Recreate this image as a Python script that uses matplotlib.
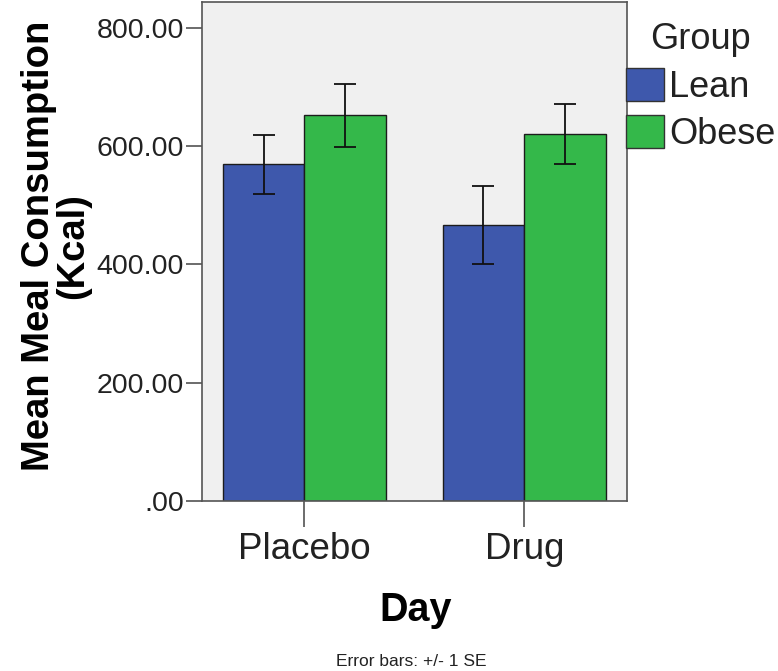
import numpy as np
import matplotlib
matplotlib.use("Agg")
import matplotlib.pyplot as plt
from matplotlib.patches import Patch
from matplotlib.ticker import FuncFormatter

plt.rcParams['font.family'] = ['Liberation Sans', 'DejaVu Sans']

# data
days = ["Placebo", "Drug"]
groups = ["Lean", "Obese"]
lean_mean = [569, 467]
lean_se = [50, 66]
obese_mean = [652, 620]
obese_se = [53, 51]
yticks = [0, 200, 400, 600, 800]

colors = {"Lean": "#3e58ac", "Obese": "#34b84a"}

fig = plt.figure(figsize=(7.78, 6.71), dpi=100)
ax = fig.add_axes([202 / 778, 1 - 500.7 / 671, 424.5 / 778, 498.7 / 671])
ax.set_facecolor("#f0f0f0")

x = np.arange(len(days))
w = 0.371
err_kw = dict(ecolor="#111111", elinewidth=1.3, capsize=8, capthick=1.3)
ax.bar(x - w / 2, lean_mean, w, yerr=lean_se, color=colors["Lean"],
       edgecolor="#1c1c1c", linewidth=1, error_kw=err_kw)
ax.bar(x + w / 2, obese_mean, w, yerr=obese_se, color=colors["Obese"],
       edgecolor="#1c1c1c", linewidth=1, error_kw=err_kw)

ax.set_xlim(-0.466, 1.465)
ax.set_ylim(0, 844)
ax.set_yticks(yticks)
# SPSS style labels: ".00" for zero
ax.yaxis.set_major_formatter(FuncFormatter(lambda v, p: ("%.2f" % v).lstrip("0") if v == 0 else "%.2f" % v))
ax.set_xticks(x)
ax.set_xticklabels(days)

for s in ax.spines.values():
    s.set_color("#555555")
    s.set_linewidth(1.2)

ax.tick_params(axis="y", length=11.5, width=1.1, pad=1.5, labelsize=20.5,
               color="#444444", labelcolor="#222222")
ax.tick_params(axis="x", length=19, width=1.1, pad=3.6, labelsize=26.5,
               color="#444444", labelcolor="#222222")

# axis titles
fig.text(39 / 778, 1 - 246 / 671, "Mean Meal Consumption", rotation=90,
         ha="center", va="center", fontsize=27.5, fontweight="bold")
fig.text(73 / 778, 1 - 246 / 671, "(Kcal)", rotation=90,
         ha="center", va="center", fontsize=27.5, fontweight="bold")
fig.text(416 / 778, 1 - 610 / 671, "Day", ha="center", va="center",
         fontsize=28.5, fontweight="bold")
fig.text(411 / 778, 1 - 661 / 671, "Error bars: +/- 1 SE", ha="center",
         va="center", fontsize=12.5, color="#222222")

handles = [Patch(facecolor=colors[g], edgecolor="#333333", linewidth=1) for g in groups]
leg = fig.legend(handles, groups, loc="upper left", bbox_to_anchor=(626 / 778, 1 - 22 / 671),
                 frameon=False, fontsize=26, title="Group", title_fontsize=26,
                 handlelength=1.05, handleheight=1.02, handletextpad=0.15,
                 labelspacing=0.3, borderpad=0, borderaxespad=0)
for t in leg.get_texts():
    t.set_color("#222222")
leg.get_title().set_color("#222222")

fig.savefig("out.png", dpi=100)
